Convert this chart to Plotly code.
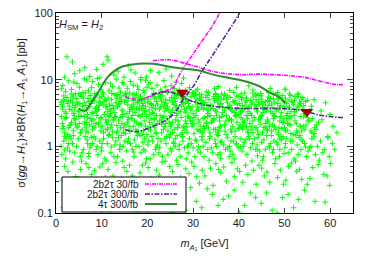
import plotly.graph_objects as go

# ---------------- data ----------------
# scan points: (m_A1 [GeV], sigma x BR [pb])
scan_points = [
    # y 10-25
    (2.4,22),(11.2,22),(11.4,19.6),(10.3,17),(8.9,14.2),(4.1,12.3),(1.9,10.9),(6.3,15.1),(13.6,13.4),(15.8,16.2),
    (7.4,11.2),(12.7,11.8),(17.3,12.6),(19.8,11.0),(22.5,12.9),(3.6,18.5),(9.6,10.7),(14.9,10.9),(25.3,11.3),(5.2,13.6),
    (16.4,14.0),(20.7,13.7),(27.9,10.6),(18.6,10.8),(24.1,14.5),
    # y 6-10.5
    (1.5,8.2),(2.8,9.6),(3.4,7.1),(4.6,8.8),(5.9,6.4),(6.7,9.9),(7.8,7.6),(8.5,6.2),(9.3,8.4),(10.8,9.1),(11.6,6.8),
    (12.4,7.9),(13.2,10.2),(14.1,6.5),(14.8,8.6),(15.6,7.3),(16.3,9.4),(17.1,6.1),(17.8,8.0),(18.5,10.0),(19.2,6.9),
    (19.9,7.7),(20.6,9.0),(21.4,6.3),(22.1,8.3),(22.9,7.0),(23.6,9.7),(24.4,6.6),(25.2,8.1),(25.9,7.4),(26.7,6.2),
    (27.5,8.8),(28.3,6.9),(29.2,7.6),(30.1,6.4),(31.0,7.2),(31.8,6.0),
    (2.1,6.6),(3.9,9.2),(5.1,7.7),(6.2,10.3),(7.1,6.8),(8.0,9.4),(9.9,7.0),(10.4,6.1),(11.9,8.7),(12.9,6.0),(13.8,7.5),
    (15.2,6.2),(16.9,8.3),(18.1,7.1),(19.6,9.8),(21.0,7.4),(22.6,6.0),(23.9,7.8),(25.6,6.5),(27.0,7.0),(28.8,6.1),(30.6,6.8),
    (33.0,6.6),(34.7,7.3),(36.2,6.1),(38.0,6.9),(39.5,7.7),(41.3,6.3),(43.1,7.0),(44.8,6.2),(46.9,7.4),(48.5,6.4),
    (50.3,7.1),(52.9,6.0),(4.3,6.2),(9.1,10.4),(14.5,9.1),(20.3,8.6),(26.3,9.2),(1.2,7.3),(35.5,7.9),(42.2,8.1),
    # y 3-6
    (1.3,4.2),(3.7,5.5),(6.1,3.4),(8.4,4.8),(10.9,3.9),(13.2,5.8),(15.5,3.1),(17.8,4.5),(20.2,5.1),(22.6,3.6),
    (24.9,4.9),(27.3,3.3),(29.6,5.6),(32.0,4.1),(34.4,3.7),(36.7,5.3),(39.1,3.2),(41.4,4.6),(43.8,5.0),(46.1,3.5),
    (48.5,4.4),(50.8,3.8),(53.2,4.0),(55.5,3.4),(2.2,3.1),(4.6,4.6),(7.0,5.2),(9.3,3.6),(11.7,4.3),(14.0,5.5),
    (16.4,3.8),(18.7,4.9),(21.1,3.2),(23.4,5.7),(25.8,4.2),(28.1,3.6),(30.5,4.7),(32.8,5.4),(35.2,3.3),(37.5,4.5),
    (39.9,5.6),(42.2,3.9),(44.6,4.3),(46.9,5.2),(49.3,3.2),(51.6,4.7),(54.0,3.6),(1.8,5.0),(4.1,3.8),(6.5,4.1),
    (8.8,5.9),(11.2,3.3),(13.5,4.0),(15.9,5.2),(18.2,3.5),(20.6,4.4),(22.9,3.9),(25.3,5.4),(27.6,4.6),(30.0,3.1),
    (32.3,3.6),(34.7,4.8),(37.0,5.8),(39.4,3.5),(41.7,5.3),(44.1,3.3),(46.4,4.1),(48.8,5.5),(51.1,3.9),(53.5,4.4),
    (2.7,4.7),(5.0,3.3),(7.4,3.9),(9.7,4.5),(12.1,5.0),(14.4,3.5),(16.8,5.9),(19.1,4.1),(21.5,5.3),(23.8,3.4),
    (26.2,3.8),(28.5,5.1),(30.9,4.3),(33.2,3.1),(35.6,5.6),(37.9,4.0),(40.3,3.7),(42.6,4.9),(45.0,5.7),(47.3,3.8),
    (49.7,4.8),(52.0,4.2),(54.4,3.1),(1.5,3.6),(3.2,4.9),(5.6,5.6),(7.9,3.2),(10.3,4.2),(12.6,3.7),(15.0,4.6),
    (17.3,5.4),(19.7,3.3),(22.0,4.7),(24.4,3.9),(26.7,5.8),(29.1,4.0),(31.4,5.2),(33.8,3.9),(36.1,4.4),(38.5,3.4),
    (40.8,4.1),(43.2,5.5),(45.5,3.6),(47.9,4.5),(50.2,5.3),(52.6,3.5),(55.0,4.9),(2.4,5.4),(4.8,4.3),(6.9,3.0),
    (9.0,3.5),(11.4,5.3),(13.9,4.4),(16.1,3.3),(18.5,5.7),(20.9,4.2),(23.1,4.8),(25.5,3.5),(27.9,4.3),(30.3,5.7),
    (32.6,4.5),(34.9,3.4),(37.3,5.1),(39.7,4.2),(42.0,3.3),(44.4,5.8),(46.7,4.7),(49.1,4.1),(51.4,3.3),(53.8,5.1),
    (1.1,4.6),(3.5,3.5),(5.8,4.0),(8.2,5.1),(10.5,4.7),(12.9,3.2),(15.3,4.9),(17.6,3.7),(19.4,5.0),(21.8,3.7),
    (24.1,4.4),(26.5,3.1),(28.8,4.8),(31.2,3.6),(33.5,5.0),(35.9,4.2),(38.2,3.6),(40.6,5.1),(42.9,4.5),(45.3,3.2),
    (47.6,5.1),(50.0,3.7),(52.3,5.6),(3.0,4.0),(5.3,5.9),(7.7,4.4),(10.0,5.6),(12.3,4.1),(14.7,3.4),(17.0,4.3),
    (19.4,3.4),(21.7,5.5),(24.1,3.7),(26.4,4.1),(28.4,3.2),(31.6,4.9),(33.9,4.2),(36.4,3.2),(38.8,4.7),(41.1,3.6),
    (43.5,4.2),(45.8,4.7),(48.2,3.4),(50.5,4.4),(52.9,3.9),(55.2,3.2),(2.0,3.3),(4.4,5.2),(6.7,3.5),(9.5,4.1),
    (11.8,3.6),(14.2,4.7),(16.6,4.0),(18.9,3.0),(21.3,4.1),(23.6,4.5),(26.0,5.2),(28.3,4.5),(30.7,3.4),(33.1,5.8),
    (35.4,4.6),(37.8,3.8),(40.1,4.4),(42.5,3.1),(44.9,5.1),(47.2,4.3),(49.5,5.8),(51.8,4.6),(54.2,4.1),(1.6,4.8),
    (3.9,3.1),(6.3,4.5),(8.6,3.7),(11.0,4.9),(13.4,3.9),(15.7,4.2),(18.0,4.7),(20.4,3.5),(22.8,5.2),(25.1,3.2),
    (27.4,5.5),(29.8,3.9),(32.2,4.6),(34.5,5.6),(36.9,3.5),(39.2,4.9),(41.6,4.0),(43.9,3.5),(46.3,4.9),(48.6,3.6),
    (51.0,5.0),(53.3,4.6),(2.5,4.4),(4.9,3.4),(7.2,4.7),(9.6,5.3),(12.0,3.4),(14.3,5.0),(16.7,3.6),(19.0,4.4),
    (21.4,3.1),(23.7,4.2),(26.1,4.7),(28.6,3.7),(30.8,5.0),(33.3,3.5),(35.7,3.9),(38.1,5.4),(40.4,3.3),(42.8,4.3),
    (45.1,4.5),(47.5,3.1),(49.9,4.0),(52.2,3.3),(54.6,4.7),(8.1,3.1),(13.1,4.5),(18.3,3.9),(24.7,3.5),(31.9,3.8),
    # y 2.2-6.5 (second pass over the dense core)
    (2.9,3.6),(5.2,4.4),(7.5,5.8),(9.9,2.7),(12.2,6.2),(14.6,3.0),(16.9,4.9),(19.3,6.3),(21.6,2.6),(24.0,5.0),
    (26.3,6.0),(28.7,2.8),(31.0,3.9),(33.4,6.4),(35.8,2.7),(38.1,4.1),(40.5,6.1),(42.8,2.9),(45.2,3.8),(47.5,6.2),
    (49.9,2.6),(52.2,4.9),(1.7,5.7),(4.0,2.6),(6.4,6.3),(8.7,3.3),(11.1,4.0),(13.4,6.0),(15.8,2.5),(18.1,5.3),
    (20.5,3.0),(22.8,6.1),(25.2,2.9),(27.5,4.0),(29.9,6.3),(32.2,2.6),(34.6,5.2),(36.9,6.1),(39.3,2.9),(41.6,4.8),
    (44.0,6.0),(46.3,2.5),(48.7,5.2),(51.1,6.1),(3.3,6.1),(5.5,2.9),(7.9,4.9),(10.2,6.4),(12.6,2.5),(14.9,5.8),
    (17.3,3.2),(19.6,4.0),(22.0,2.9),(24.3,6.4),(26.7,2.4),(29.0,4.4),(31.4,6.0),(33.7,2.9),(36.1,5.1),(38.4,2.5),
    (40.8,3.5),(43.1,6.3),(45.5,4.3),(47.8,2.8),(50.2,4.6),(2.0,2.6),(4.3,4.1),(6.7,2.3),(9.0,6.0),(11.4,2.4),
    (13.7,4.3),(16.1,6.3),(18.4,2.8),(20.8,5.6),(23.1,2.5),(25.5,4.6),(27.8,5.2),(30.2,2.7),(32.5,4.3),(34.9,6.2),
    (37.2,2.4),(39.6,5.7),(41.9,2.6),(44.3,4.6),(46.6,6.4),(49.0,2.4),(51.4,5.8),(3.6,4.5),(6.0,5.3),(8.3,2.5),
    (10.7,5.1),(13.0,2.8),(15.4,6.1),(17.7,2.3),(20.1,4.6),(22.4,5.5),(24.8,2.3),(27.1,6.3),(29.5,3.5),(31.8,5.5),
    (34.2,2.4),(36.5,3.9),(38.9,6.4),(41.2,2.3),(43.6,5.9),(45.9,3.4),(48.3,6.0),(50.6,3.1),(1.4,3.9),(5.0,6.2),
    (9.4,4.6),(14.0,2.7),(18.8,3.7),(23.5,4.0),(28.2,6.1),(33.0,3.7),(37.6,5.7),(42.3,3.7),(47.0,3.3),(11.9,3.1),
    (16.2,3.6),(21.0,3.8),(25.9,5.7),(30.5,5.9),(35.3,4.9),(40.0,3.0),(44.7,2.6),(3.8,5.9),(8.9,3.9),(13.3,5.2),
    (19.0,5.2),(26.9,3.4),(32.9,2.3),(39.0,4.5),(43.8,4.0),(48.9,3.8),(53.6,2.8),(55.9,4.0),(53.0,6.1),(55.4,2.4),
    (6.9,2.7),(10.6,3.0),(17.6,6.1),(22.2,4.3),(29.4,2.4),(35.0,6.0),(40.9,5.4),(46.5,5.5),(50.4,2.9),(54.0,5.4),
    # y 1.5-3
    (1.4,2.2),(3.8,1.7),(6.2,2.8),(8.5,1.9),(10.9,2.5),(13.3,1.6),(15.6,2.3),(18.0,2.9),(20.3,1.8),(22.7,2.4),
    (25.1,1.5),(27.4,2.7),(29.8,2.0),(32.1,1.6),(34.5,2.6),(36.9,2.1),(39.2,1.7),(41.6,2.9),(44.0,1.9),(46.3,2.4),
    (48.7,1.6),(51.0,2.6),(53.4,2.0),(55.8,1.7),(57.5,2.3),(2.3,2.7),(4.7,2.0),(7.0,1.6),(9.4,2.3),(11.8,2.9),
    (14.1,1.9),(16.5,2.6),(18.8,1.5),(21.2,2.1),(23.6,2.8),(25.9,1.8),(28.3,2.4),(30.6,2.9),(33.0,2.2),(35.4,1.6),
    (37.7,2.5),(40.1,1.9),(42.4,2.2),(44.8,2.8),(47.2,1.7),(49.5,2.3),(51.9,1.5),(54.2,2.8),(56.6,1.9),(1.9,1.6),
    (4.2,2.5),(6.6,1.9),(8.9,2.9),(11.3,1.8),(13.7,2.4),(16.0,1.7),(18.4,2.2),(20.8,2.6),(23.1,1.6),(25.5,2.3),
    (27.8,1.9),(30.2,2.2),(32.5,2.7),(34.9,1.8),(37.3,2.9),(39.6,2.3),(42.0,1.6),(44.3,2.5),(46.7,2.0),(49.1,2.8),
    (51.4,2.1),(53.8,1.7),(56.1,2.6),(2.8,1.9),(5.1,2.2),(7.5,2.6),(9.8,1.7),(12.2,2.1),(14.6,2.8),(16.9,2.0),
    (19.3,2.4),(21.6,1.9),(24.0,2.2),(26.4,2.9),(28.7,1.6),(31.1,2.5),(33.4,1.9),(35.8,2.4),(38.2,1.8),(40.5,2.7),
    (42.9,2.0),(45.2,1.6),(47.6,2.6),(50.0,1.9),(52.3,2.4),(54.7,2.1),(1.2,2.8),(3.4,2.3),(5.7,1.8),(8.1,2.0),
    (10.4,1.6),(12.8,2.7),(15.1,2.1),(17.5,1.8),(19.8,2.8),(22.2,2.2),(24.5,1.7),(26.9,2.1),(29.3,2.6),(31.6,1.7),
    (34.0,2.3),(36.3,2.8),(38.7,2.0),(41.1,2.3),(43.4,2.7),(45.8,2.2),(48.1,1.8),(50.5,2.6),(52.8,1.6),(55.2,2.4),
    (2.6,1.5),(5.0,2.8),(7.3,2.1),(9.7,2.6),(12.0,1.9),(14.4,2.2),(16.8,2.9),(19.1,1.7),(21.5,2.5),(23.8,2.0),
    (26.2,2.5),(28.5,2.2),(30.9,1.8),(33.2,2.8),(35.6,1.7),(38.0,2.6),(40.3,2.1),(42.7,1.8),(45.0,2.9),(47.4,2.1),
    (49.8,2.3),(52.1,2.9),(54.5,1.8),(57.0,2.1),(3.1,2.1),(5.4,1.6),(7.8,2.4),(10.1,2.0),(12.5,2.5),(14.8,1.6),
    (17.2,2.4),(19.6,2.0),(21.9,1.6),(24.3,2.6),(26.6,1.9),(29.0,2.8),(31.3,2.3),(33.7,1.6),(36.0,2.0),(38.4,2.4),
    (40.8,1.8),(43.1,2.4),(45.5,1.9),(47.8,2.9),(50.2,1.7),(52.6,2.2),(55.0,2.7),(1.6,2.0),(4.0,2.9),(6.3,2.3),
    (8.7,2.2),(11.0,2.3),(13.4,1.7),(15.8,2.7),(18.1,2.1),(20.5,2.3),(22.8,2.9),(25.2,2.1),(27.6,1.6),(29.9,2.4),
    (32.3,2.0),(34.6,2.5),(37.0,1.7),(39.4,2.8),(41.7,2.0),(44.1,1.7),(46.4,2.3),(48.8,1.9),(51.2,2.8),(53.5,2.0),
    (56.0,1.6),(58.2,2.5),(11.6,2.8),(17.7,1.6),(23.3,2.7),(28.0,2.0),(35.1,2.9),(40.9,2.5),(46.0,1.8),(50.7,2.2),
    # y 0.8-2.2 (second pass)
    (2.2,1.3),(4.6,1.9),(6.9,1.1),(9.3,2.1),(11.7,1.5),(14.0,0.9),(16.4,1.7),(18.7,2.1),(21.1,1.2),(23.5,1.8),
    (25.8,1.1),(28.2,1.75),(30.5,1.25),(32.9,2.05),(35.3,1.5),(37.6,0.95),(40.0,1.85),(42.3,1.3),(44.7,2.15),(47.1,1.45),
    (49.4,1.85),(51.8,1.2),(54.1,2.0),(56.5,1.55),(1.5,1.85),(3.8,1.45),(6.2,2.15),(8.6,1.3),(10.9,1.8),(13.3,2.05),
    (15.6,1.15),(18.0,1.6),(20.4,1.95),(22.7,0.95),(25.1,2.0),(27.4,1.5),(29.8,2.15),(32.2,1.0),(34.5,1.8),(36.9,2.1),
    (39.2,1.4),(41.6,1.95),(44.0,0.9),(46.3,1.75),(48.7,1.5),(51.0,2.1),(53.4,1.45),(55.8,1.0),(3.0,2.05),(5.4,1.6),
    (7.7,1.35),(10.1,1.1),(12.4,1.65),(14.8,1.9),(17.2,1.25),(19.5,0.85),(21.9,1.55),(24.2,1.4),(26.6,1.9),(29.0,1.05),
    (31.3,1.7),(33.7,1.4),(36.0,1.15),(38.4,1.65),(40.8,2.0),(43.1,1.6),(45.5,1.25),(47.8,2.0),(50.2,1.1),(52.6,1.7),
    (1.9,1.4),(4.3,2.15),(6.6,1.7),(9.0,1.0),(11.3,2.1),(13.7,1.35),(16.0,2.0),(18.4,1.45),(20.7,1.75),(23.1,2.15),
    (25.5,1.6),(27.8,1.2),(30.2,1.55),(32.5,1.85),(34.9,1.1),(37.2,1.5),(39.6,1.05),(42.0,1.7),(44.3,1.5),(46.7,0.95),
    (49.0,1.3),(51.4,1.55),(53.8,1.25),(56.9,1.8),(8.0,1.8),(15.2,1.55),(22.3,1.3),(28.6,1.95),(35.7,1.9),(41.2,1.15),
    (45.9,1.95),(50.6,1.75),(2.7,1.1),(12.9,1.05),(19.9,1.5),(26.1,1.3),(31.7,2.0),(38.8,1.2),(43.6,1.9),(48.2,1.15),
    # y 0.6-1.5
    (1.7,1.2),(4.1,0.8),(6.4,1.4),(8.8,0.9),(11.2,1.1),(13.5,0.7),(15.9,1.3),(18.2,1.0),(20.6,0.65),(23.0,1.2),
    (25.3,0.85),(27.7,1.4),(30.0,0.95),(32.4,0.7),(34.8,1.25),(37.1,0.9),(39.5,1.1),(41.8,0.75),(44.2,1.35),(46.6,1.0),
    (48.9,0.7),(51.3,1.2),(53.6,0.9),(56.0,1.3),(58.4,0.8),(60.5,1.1),(2.5,0.95),(4.9,1.3),(7.2,0.7),(9.6,1.2),
    (12.0,0.8),(14.3,1.45),(16.7,0.9),(19.0,1.15),(21.4,0.75),(23.8,1.3),(26.1,1.0),(28.5,0.65),(30.8,1.2),(33.2,0.9),
    (35.6,1.45),(37.9,0.7),(40.3,1.3),(42.6,0.95),(45.0,1.15),(47.4,0.8),(49.7,1.4),(52.1,0.65),(54.4,1.1),(56.8,0.75),
    (1.3,0.75),(3.6,1.1),(6.0,0.9),(8.3,1.4),(10.7,0.65),(13.1,1.2),(15.4,0.85),(17.8,1.45),(20.1,1.05),(22.5,0.8),
    (24.9,1.35),(27.2,0.7),(29.6,1.1),(31.9,1.4),(34.3,0.8),(36.7,1.05),(39.0,0.65),(41.4,1.25),(43.7,0.9),(46.1,1.45),
    (48.5,1.05),(50.8,0.8),(53.2,1.35),(55.5,0.95),(57.9,1.2),(59.8,0.7),(2.9,1.4),(5.3,0.7),(7.6,1.05),(10.0,0.85),
    (12.4,1.35),(14.7,1.0),(17.1,0.7),(19.4,1.3),(21.8,0.9),(24.1,1.1),(26.5,1.45),(28.9,0.8),(31.2,1.0),(33.6,1.3),
    (35.9,0.8),(38.3,1.2),(40.7,0.85),(43.0,1.1),(45.4,0.7),(47.7,1.2),(50.1,0.95),(52.5,1.45),(54.8,0.7),(57.2,1.0),
    (2.1,0.65),(4.5,1.0),(6.8,1.25),(9.2,0.75),(11.5,1.45),(13.9,0.9),(16.3,1.1),(18.6,0.8),(21.0,1.4),(23.3,0.7),
    (25.7,1.15),(28.1,0.95),(30.4,0.7),(32.8,1.15),(35.1,1.0),(37.5,1.35),(39.9,0.95),(42.2,1.4),(44.6,0.85),(46.9,1.1),
    (49.3,1.25),(51.6,0.9),(54.0,1.2),(56.4,1.4),(58.7,0.9),(1.1,1.0),(3.3,1.3),(5.7,0.8),(8.0,1.1),(10.4,1.3),
    (12.7,0.7),(15.1,1.2),(17.5,1.0),(19.8,0.65),(22.2,1.05),(24.5,0.75),(26.9,0.9),(29.2,1.3),(31.6,0.8),(34.0,0.95),
    (36.3,1.2),(38.7,0.75),(41.0,1.0),(43.4,1.3),(45.8,0.9),(48.1,0.65),(50.5,1.3),(52.8,1.05),(55.2,0.85),(61.0,0.9),
    (7.4,0.95),(14.0,1.05),(20.3,1.2),(27.0,1.05),(32.0,1.25),(38.0,1.0),(44.0,1.05),(49.0,0.9),(53.0,0.75),(59.5,1.35),
    (3.0,0.85),(5.6,0.6),(9.9,0.95),(14.6,0.6),(19.2,0.9),(23.9,0.6),(28.8,1.0),(33.5,0.62),(38.1,0.85),(42.9,0.6),
    (47.6,0.9),(52.4,0.6),(57.6,0.62),(7.1,0.78),(12.1,0.98),(17.0,0.82),(22.0,0.98),(26.4,0.62),(31.1,0.88),(36.0,0.66),
    (40.4,0.98),(45.2,0.62),(49.9,0.78),(54.6,0.98),(1.9,0.88),(11.0,0.6),(25.0,0.92),(35.4,0.75),(44.1,0.72),(60.1,0.55),
    # y 0.25-0.6
    (1.9,0.5),(4.3,0.35),(6.6,0.55),(9.0,0.3),(11.4,0.45),(13.7,0.28),(16.1,0.52),(18.4,0.4),(20.8,0.33),(23.2,0.58),
    (25.5,0.42),(27.9,0.27),(30.2,0.5),(32.6,0.36),(35.0,0.55),(37.3,0.3),(39.7,0.46),(42.0,0.38),(44.4,0.52),(46.8,0.29),
    (49.1,0.44),(51.5,0.56),(53.8,0.32),(56.2,0.48),(58.6,0.38),(59.9,0.26),(3.1,0.27),(5.4,0.45),(7.8,0.38),(10.2,0.55),
    (12.5,0.36),(14.9,0.48),(17.3,0.3),(19.6,0.56),(22.0,0.44),(24.3,0.31),(26.7,0.53),(29.1,0.39),(31.4,0.28),(33.8,0.47),
    (36.1,0.4),(38.5,0.57),(40.9,0.29),(43.2,0.44),(45.6,0.36),(47.9,0.55),(50.3,0.31),(52.7,0.42),(55.0,0.27),(57.4,0.53),
    (1.4,0.31),(3.7,0.58),(6.1,0.26),(8.4,0.43),(10.8,0.34),(13.1,0.57),(15.5,0.42),(17.9,0.25),(20.2,0.48),(22.6,0.37),
    (24.9,0.5),(27.3,0.34),(29.7,0.58),(32.0,0.44),(34.4,0.26),(36.7,0.49),(39.1,0.35),(41.5,0.52),(43.8,0.27),(46.2,0.41),
    (48.5,0.34),(50.9,0.5),(53.3,0.45),(55.6,0.33),(2.6,0.42),(7.2,0.48),(11.9,0.27),(16.7,0.36),(21.3,0.28),(28.4,0.46),
    (14.3,0.33),(18.9,0.52),(25.9,0.29),(30.8,0.35),(35.6,0.45),(40.2,0.42),(45.0,0.47),(49.8,0.27),(5.0,0.32),(9.6,0.49),
    # y 0.1-0.25
    (2.2,0.2),(4.8,0.13),(7.1,0.22),(9.5,0.16),(11.9,0.11),(14.2,0.19),(16.6,0.14),(18.9,0.24),(21.3,0.12),(23.7,0.17),
    (26.0,0.21),(28.4,0.11),(30.7,0.15),(33.1,0.23),(35.5,0.13),(37.8,0.18),(40.2,0.1),(42.6,0.2),(44.9,0.14),(47.3,0.11),
    (49.6,0.17),(52.0,0.12),(54.4,0.22),(56.7,0.15),(58.9,0.146),(3.5,0.16),(5.9,0.24),(8.3,0.11),(10.6,0.2),(13.0,0.15),
    (15.4,0.23),(17.7,0.1),(20.1,0.18),(22.4,0.21),(24.8,0.14),(27.2,0.17),(29.5,0.24),(31.9,0.12),(34.2,0.19),(36.6,0.16),
    (39.0,0.22),(41.3,0.13),(43.7,0.17),(46.1,0.2),(48.4,0.1),(50.8,0.19),(53.1,0.16),(1.6,0.12),(12.3,0.24),(25.5,0.1),
    # right-hand outliers
    (50.1,7.2),(53.0,5.6),(56.5,5.0),(59.0,4.5),(60.6,2.0),(59.5,1.4),(59.3,0.36),(61.5,1.6),(58.0,3.4),(60.0,3.0),
]
scan_x = [p[0] for p in scan_points]
scan_y = [p[1] for p in scan_points]

# 2b2tau 30/fb (two branches)
mag1_x = [15.1, 17.7, 19.9, 22.8, 25.6, 26.7, 27.8, 29.3, 30.9, 32.6, 34.1, 35.7, 36.2]
mag1_y = [5.6, 5.0, 5.4, 6.4, 7.6, 10.7, 14.6, 20.6, 30, 43.8, 61.8, 96.6, 115]
mag2_x = [21.2, 24.9, 27.8, 30.9, 34.4, 40.3, 44.0, 47.5, 51.0, 54.9, 57.5, 59.3, 61.0, 62.8]
mag2_y = [19.2, 19.9, 17.9, 15.6, 13.2, 11.9, 12.1, 11.9, 11.5, 10.7, 9.6, 9.0, 8.5, 8.4]

# 2b2tau 300/fb (two branches)
pur1_x = [15.1, 17.7, 21.2, 24.3, 26.5, 27.8, 30.0, 31.9, 33.9, 35.9, 37.9, 39.8, 40.5]
pur1_y = [1.79, 1.67, 1.99, 2.53, 3.57, 5.03, 7.86, 13.2, 21.3, 34.5, 55.7, 90, 110]
pur2_x = [21.0, 23.9, 26.5, 28.9, 32.6, 35.9, 40.3, 47.5, 52.7, 55.0, 57.1, 60.0, 62.8]
pur2_y = [6.0, 6.6, 6.1, 5.0, 4.2, 3.9, 3.7, 3.7, 3.57, 3.3, 3.0, 2.8, 2.7]

# 4tau 300/fb
grn_x = [5.0, 6.3, 7.7, 9.2, 11.4, 14.4, 17.9, 21.2, 24.9, 28.0, 31.5, 34.4, 38.0, 41.8, 44.6, 46.8, 49.0, 50.1]
grn_y = [3.7, 3.4, 4.5, 6.4, 11.1, 15.6, 17.3, 17.3, 15.6, 14.6, 13.6, 11.9, 10.6, 9.3, 7.9, 6.4, 5.4, 4.5]

# benchmark points
bench_x = [27.6, 54.9]
bench_y = [6.4, 3.3]

x_ticks = [0, 10, 20, 30, 40, 50, 60]
y_ticks = [0.1, 1, 10, 100]
y_ticktext = ["0.1", "1", "10", "100"]
y_minor = [m * d for d in (0.1, 1, 10) for m in range(2, 10)]

legend_labels = ["2b2τ 30/fb", "2b2τ 300/fb", "4τ 300/fb"]

MAG = "#ff00ff"
PUR = "#5b1f9a"
GRN = "#2e8b2e"
FONT = "Liberation Sans, Arial, sans-serif"

fig = go.Figure()
fig.add_trace(go.Scatter(
    x=scan_x, y=scan_y, mode="markers",
    marker=dict(symbol="cross-thin", size=4, line=dict(width=1, color="#00ff00")),
    showlegend=False, hoverinfo="skip"))

line_kw = dict(mode="lines", showlegend=False, line_shape="spline")
MAG_DASH = "4px,1px,1px,1px"
PUR_DASH = "5px,1.5px,1.5px,1.5px"
fig.add_trace(go.Scatter(x=mag1_x, y=mag1_y, line=dict(color=MAG, width=1.6, dash=MAG_DASH), **line_kw))
fig.add_trace(go.Scatter(x=mag2_x, y=mag2_y, line=dict(color=MAG, width=1.6, dash=MAG_DASH), **line_kw))
fig.add_trace(go.Scatter(x=pur1_x, y=pur1_y, line=dict(color=PUR, width=1.6, dash=PUR_DASH), **line_kw))
fig.add_trace(go.Scatter(x=pur2_x, y=pur2_y, line=dict(color=PUR, width=1.6, dash=PUR_DASH), **line_kw))
fig.add_trace(go.Scatter(x=grn_x, y=grn_y, line=dict(color=GRN, width=2), **line_kw))
fig.add_trace(go.Scatter(x=bench_x, y=bench_y, mode="markers", showlegend=False,
                         marker=dict(symbol="triangle-down", size=11, color="#a00000")))

# manual gnuplot-style legend (text then line sample)
L, R, T, B = 56, 353, 13, 213
def px(xp): return (xp - L) / (R - L)
def py(yp): return (B - yp) / (B - T)

shapes = [dict(type="rect", xref="paper", yref="paper", x0=px(62), x1=px(186), y0=py(212), y1=py(177),
               fillcolor="white", line=dict(color="black", width=1), layer="above")]
annotations = []
rows = [184, 194, 204]
styles = [dict(color=MAG, width=1.6, dash=MAG_DASH),
          dict(color=PUR, width=1.6, dash=PUR_DASH),
          dict(color=GRN, width=2)]
for lab, yy, st in zip(legend_labels, rows, styles):
    annotations.append(dict(text=lab, xref="paper", yref="paper", x=px(141), y=py(yy),
                            xanchor="right", yanchor="middle", showarrow=False,
                            font=dict(size=10, color="#222", family=FONT)))
    shapes.append(dict(type="line", xref="paper", yref="paper", x0=px(145), x1=px(177),
                       y0=py(yy), y1=py(yy), line=st, layer="above"))

annotations.append(dict(text="<i>H</i><sub>SM</sub> = <i>H</i><sub>2</sub>", xref="paper", yref="paper",
                        x=px(57), y=py(16), xanchor="left", yanchor="top", showarrow=False,
                        font=dict(size=11, color="#222", family=FONT)))

fig.update_layout(
    width=374, height=262,
    margin=dict(l=L, r=374 - R, t=T, b=262 - B),
    paper_bgcolor="white", plot_bgcolor="white",
    font=dict(family=FONT, size=11, color="#222"),
    shapes=shapes, annotations=annotations, showlegend=False,
)
fig.update_xaxes(
    range=[0, 65], tickmode="array", tickvals=x_ticks, ticks="inside", ticklen=5,
    showline=True, linecolor="black", linewidth=1, mirror="ticks", showgrid=False, zeroline=False,
    automargin=False,
    title=dict(text="<i>m</i><sub><i>A</i>₁</sub> [GeV]", standoff=11, font=dict(size=11)),
    tickfont=dict(size=11),
)
fig.update_yaxes(
    type="log", range=[-1, 2], tickmode="array", tickvals=y_ticks, ticktext=y_ticktext,
    ticks="inside", ticklen=6, showline=True, linecolor="black", linewidth=1, mirror="ticks",
    showgrid=False, zeroline=False, automargin=False,
    minor=dict(tickmode="array", tickvals=y_minor, ticks="inside", ticklen=3, showgrid=False),
    title=dict(text="σ(<i>gg</i>→<i>H</i><sub>1</sub>)×BR(<i>H</i><sub>1</sub>→<i>A</i><sub>1</sub> <i>A</i><sub>1</sub>) [pb]",
               standoff=6, font=dict(size=11)),
    tickfont=dict(size=11),
)

fig.write_html("out.html", config={"displayModeBar": False},
               post_script="document.body.style.margin='0px';")
